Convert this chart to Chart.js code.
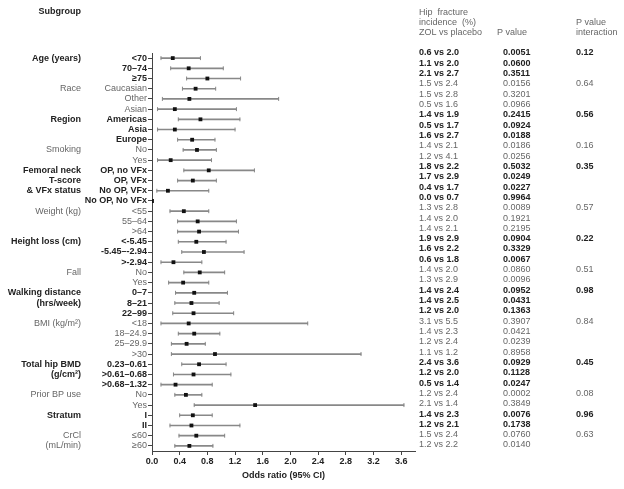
<!DOCTYPE html>
<html>
<head>
<meta charset="utf-8">
<title>Hip fracture subgroup forest plot</title>
<script src="https://cdn.jsdelivr.net/npm/chart.js"></script>
<style>
body{margin:0;background:#fff;}
canvas{display:block;}
</style>
</head>
<body>
<canvas id="chart" width="624" height="489"></canvas>
<script>
// -------- DATA --------
const groupNames = [
    ['Age (years)'], ['Race'], ['Region'], ['Smoking'],
    ['Femoral neck', 'T-score', '& VFx status'], ['Weight (kg)'], ['Height loss (cm)'], ['Fall'],
    ['Walking distance', '(hrs/week)'], ['BMI (kg/m\u00b2)'], ['Total hip BMD', '(g/cm\u00b2)'],
    ['Prior BP use'], ['Stratum'], ['CrCl', '(mL/min)']
];
const groupSizes = [3, 3, 3, 2, 4, 3, 3, 2, 3, 4, 3, 2, 2, 2];
const groupBold = [1, 0, 1, 0, 1, 0, 1, 0, 1, 0, 1, 0, 1, 0];
const pInteraction = ['0.12', '0.64', '0.56', '0.16', '0.35', '0.57', '0.22', '0.51', '0.98', '0.84', '0.45', '0.08', '0.96', '0.63'];

const rowLabels = [
    '<70', '70\u201374', '\u226575',
    'Caucasian', 'Other', 'Asian',
    'Americas', 'Asia', 'Europe',
    'No', 'Yes',
    'OP, no VFx', 'OP, VFx', 'No OP, VFx', 'No OP, No VFx',
    '<55', '55\u201364', '>64',
    '<-5.45', '-5.45\u2013-2.94', '>-2.94',
    'No', 'Yes',
    '0\u20137', '8\u201321', '22\u201399',
    '<18', '18\u201324.9', '25\u201329.9', '>30',
    '0.23\u20130.61', '>0.61\u20130.68', '>0.68\u20131.32',
    'No', 'Yes',
    'I', 'II',
    '\u226460', '\u226560'
];
const oddsRatio = [0.30, 0.53, 0.80, 0.63, 0.54, 0.33, 0.70, 0.33, 0.58, 0.65, 0.27, 0.82, 0.59, 0.23, 0.00,
    0.46, 0.66, 0.68, 0.64, 0.75, 0.31, 0.69, 0.45, 0.61, 0.57, 0.60, 0.53, 0.61, 0.50, 0.91,
    0.68, 0.60, 0.34, 0.49, 1.49, 0.59, 0.57, 0.64, 0.54];
const ciLow = [0.13, 0.27, 0.50, 0.44, 0.15, 0.08, 0.38, 0.08, 0.37, 0.45, 0.08, 0.46, 0.37, 0.07, null,
    0.26, 0.37, 0.37, 0.38, 0.43, 0.13, 0.46, 0.24, 0.34, 0.33, 0.30, 0.13, 0.38, 0.28, 0.28,
    0.43, 0.31, 0.13, 0.33, 0.61, 0.40, 0.26, 0.39, 0.33];
const ciHigh = [0.70, 1.03, 1.28, 0.92, 1.83, 1.22, 1.27, 1.20, 0.91, 0.93, 0.86, 1.48, 0.93, 0.82, null,
    0.82, 1.22, 1.25, 1.07, 1.33, 0.72, 1.05, 0.82, 1.09, 0.97, 1.18, 2.25, 0.98, 0.77, 3.02,
    1.07, 1.14, 0.87, 0.72, 3.64, 0.87, 1.27, 1.05, 0.88];
const incidence = ['0.6 vs 2.0', '1.1 vs 2.0', '2.1 vs 2.7', '1.5 vs 2.4', '1.5 vs 2.8', '0.5 vs 1.6',
    '1.4 vs 1.9', '0.5 vs 1.7', '1.6 vs 2.7', '1.4 vs 2.1', '1.2 vs 4.1', '1.8 vs 2.2', '1.7 vs 2.9',
    '0.4 vs 1.7', '0.0 vs 0.7', '1.3 vs 2.8', '1.4 vs 2.0', '1.4 vs 2.1', '1.9 vs 2.9', '1.6 vs 2.2',
    '0.6 vs 1.8', '1.4 vs 2.0', '1.3 vs 2.9', '1.4 vs 2.4', '1.4 vs 2.5', '1.2 vs 2.0', '3.1 vs 5.5',
    '1.4 vs 2.3', '1.2 vs 2.4', '1.1 vs 1.2', '2.4 vs 3.6', '1.2 vs 2.0', '0.5 vs 1.4', '1.2 vs 2.4',
    '2.1 vs 1.4', '1.4 vs 2.3', '1.2 vs 2.1', '1.5 vs 2.4', '1.2 vs 2.2'];
const pValues = ['0.0051', '0.0600', '0.3511', '0.0156', '0.3201', '0.0966', '0.2415', '0.0924', '0.0188',
    '0.0186', '0.0256', '0.5032', '0.0249', '0.0227', '0.9964', '0.0089', '0.1921', '0.2195', '0.0904',
    '0.3329', '0.0067', '0.0860', '0.0096', '0.0952', '0.0431', '0.1363', '0.3907', '0.0421', '0.0239',
    '0.8958', '0.0929', '0.1128', '0.0247', '0.0002', '0.3849', '0.0076', '0.1738', '0.0760', '0.0140'];

// -------- STYLE --------
const FONT = '"Liberation Sans", Arial, sans-serif';
const DARK = '#222';
const GREY = '#666';
const LINE = '#888';

// which group each row belongs to
const rowGroup = [];
groupSizes.forEach((n, g) => { for (let k = 0; k < n; k++) rowGroup.push(g); });
const isBold = i => groupBold[rowGroup[i]] === 1;

const idx = rowLabels.map((_, i) => i);

// -------- TEXT COLUMNS --------
const sideText = {
    id: 'sideText',
    afterDraw(chart) {
        const ctx = chart.ctx;
        const y = chart.scales.y;
        const area = chart.chartArea;
        // right-hand table rows run a little taller than the plot rows
        const textY = i => area.top + i * (area.bottom - 6 - area.top) / (rowLabels.length - 1);
        ctx.save();
        ctx.textBaseline = 'middle';

        ctx.textAlign = 'right';
        ctx.font = 'bold 9px ' + FONT;
        ctx.fillStyle = DARK;
        ctx.fillText('Subgroup', 81, 12);

        let row = 0;
        groupNames.forEach((lines, g) => {
            ctx.font = (groupBold[g] ? 'bold ' : '') + '9px ' + FONT;
            ctx.fillStyle = groupBold[g] ? DARK : GREY;
            lines.forEach((t, k) => ctx.fillText(t, 81, y.getPixelForValue(row + k)));
            row += groupSizes[g];
        });

        ctx.textAlign = 'left';
        ctx.font = '9px ' + FONT;
        ctx.fillStyle = GREY;
        ctx.fillText('Hip  fracture', 419, 13);
        ctx.fillText('incidence  (%)', 419, 23);
        ctx.fillText('ZOL vs placebo', 419, 33);
        ctx.fillText('P value', 497, 33);
        ctx.fillText('P value', 576, 23);
        ctx.fillText('interaction', 576, 33);

        idx.forEach(i => {
            ctx.font = (isBold(i) ? 'bold ' : '') + '9px ' + FONT;
            ctx.fillStyle = isBold(i) ? DARK : GREY;
            ctx.fillText(incidence[i], 419, textY(i));
            ctx.fillText(pValues[i], 503, textY(i));
        });

        row = 0;
        groupSizes.forEach((n, g) => {
            ctx.font = (groupBold[g] ? 'bold ' : '') + '9px ' + FONT;
            ctx.fillStyle = groupBold[g] ? DARK : GREY;
            ctx.fillText(pInteraction[g], 576, textY(row));
            row += n;
        });
        ctx.restore();
    }
};

const capStyle = {
    type: 'scatter',
    pointStyle: 'line',
    rotation: 90,
    pointRadius: 2,
    borderColor: LINE,
    borderWidth: 1,
    order: 2
};

new Chart(document.getElementById('chart'), {
    type: 'bar',
    data: {
        labels: rowLabels,
        datasets: [
            {
                label: '95% CI',
                data: idx.map(i => ciLow[i] === null ? null : [ciLow[i], ciHigh[i]]),
                backgroundColor: LINE,
                barThickness: 1,
                order: 3
            },
            Object.assign({label: 'lower', data: idx.map(i => ({x: ciLow[i], y: i}))}, capStyle),
            Object.assign({label: 'upper', data: idx.map(i => ({x: ciHigh[i], y: i}))}, capStyle),
            {
                type: 'scatter',
                label: 'Odds ratio',
                data: idx.map(i => ({x: oddsRatio[i], y: i})),
                pointStyle: 'rect',
                pointRadius: 2.7,
                backgroundColor: '#111',
                borderColor: '#111',
                borderWidth: 0,
                order: 1
            }
        ]
    },
    options: {
        indexAxis: 'y',
        responsive: false,
        animation: false,
        events: [],
        layout: {padding: {left: 0, right: 209, top: 53, bottom: 0}},
        plugins: {legend: {display: false}, tooltip: {enabled: false}},
        scales: {
            x: {
                type: 'linear',
                min: 0,
                max: 3.8,
                afterFit: s => { s.height = 38; },
                border: {color: '#444', width: 1},
                grid: {drawOnChartArea: false, tickLength: 4, color: '#444'},
                ticks: {
                    stepSize: 0.4,
                    includeBounds: false,
                    padding: 1,
                    color: DARK,
                    font: {family: FONT, size: 9, weight: 'bold'},
                    callback: v => v.toFixed(1)
                },
                title: {
                    display: true,
                    text: 'Odds ratio (95% CI)',
                    color: DARK,
                    font: {family: FONT, size: 9, weight: 'bold'},
                    padding: {top: 0, bottom: 8}
                }
            },
            y: {
                type: 'category',
                offset: true,
                afterFit: s => { s.width = 152; },
                border: {color: '#444', width: 1},
                grid: {drawOnChartArea: false, tickLength: 4, color: '#444', offset: false},
                ticks: {
                    autoSkip: false,
                    padding: 1,
                    color: c => isBold(c.index) ? DARK : GREY,
                    font: c => ({family: FONT, size: 9, weight: isBold(c.index) ? 'bold' : 'normal'})
                }
            }
        }
    },
    plugins: [sideText]
});
</script>
</body>
</html>
